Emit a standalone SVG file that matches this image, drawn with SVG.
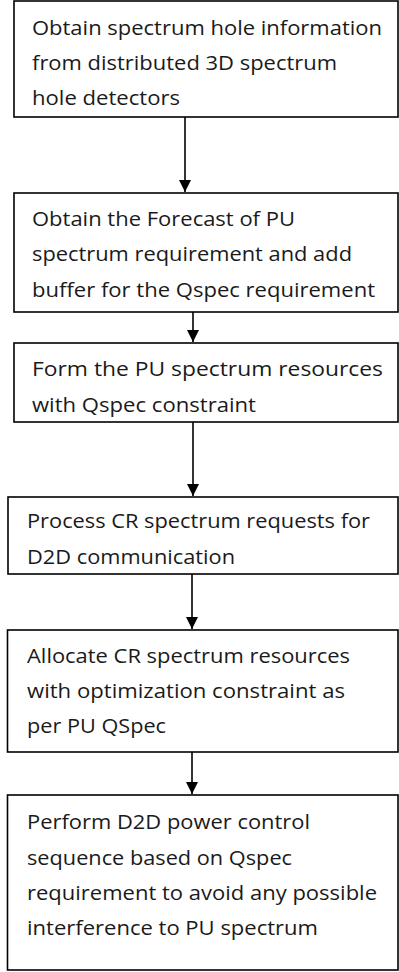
<svg xmlns="http://www.w3.org/2000/svg" width="399" height="972" viewBox="0 0 399 972">
<style>
.box{fill:#fff;stroke:#000;stroke-width:1.6}
.t{font-family:"Open Sans","Noto Sans","Liberation Sans",sans-serif;font-size:20.5px;fill:#1a1a1a}
.c{stroke:#000;stroke-width:1.6;fill:none}
</style>
<defs>
<marker id="ah" markerUnits="userSpaceOnUse" markerWidth="13" markerHeight="13" refX="12" refY="6" orient="auto">
<path d="M0,0 L12,6 L0,12 z" fill="#000"/>
</marker>
</defs>
<rect width="399" height="972" fill="#fff"/>
<g id="connectors">
<line class="c" x1="185" y1="117" x2="185" y2="192" marker-end="url(#ah)"/>
<line class="c" x1="193" y1="312" x2="193" y2="342" marker-end="url(#ah)"/>
<line class="c" x1="193" y1="422" x2="193" y2="496" marker-end="url(#ah)"/>
<line class="c" x1="192" y1="574" x2="192" y2="629" marker-end="url(#ah)"/>
<line class="c" x1="192" y1="752" x2="192" y2="794" marker-end="url(#ah)"/>
</g>
<g id="n1">
<rect class="box" x="14" y="1" width="384" height="116"/>
<text class="t" x="32" y="34.5" textLength="350" lengthAdjust="spacingAndGlyphs">Obtain spectrum hole information</text>
<text class="t" x="32" y="69.5" textLength="305" lengthAdjust="spacingAndGlyphs">from distributed 3D spectrum</text>
<text class="t" x="32" y="104.5" textLength="148" lengthAdjust="spacingAndGlyphs">hole detectors</text>
</g>
<g id="n2">
<rect class="box" x="14" y="193" width="384" height="119"/>
<text class="t" x="32" y="225.5" textLength="263" lengthAdjust="spacingAndGlyphs">Obtain the Forecast of PU</text>
<text class="t" x="32" y="260.5" textLength="320" lengthAdjust="spacingAndGlyphs">spectrum requirement and add</text>
<text class="t" x="32" y="296.5" textLength="343" lengthAdjust="spacingAndGlyphs">buffer for the Qspec requirement</text>
</g>
<g id="n3">
<rect class="box" x="14" y="343" width="384" height="79"/>
<text class="t" x="32" y="375.5" textLength="351" lengthAdjust="spacingAndGlyphs">Form the PU spectrum resources</text>
<text class="t" x="32" y="412" textLength="224" lengthAdjust="spacingAndGlyphs">with Qspec constraint</text>
</g>
<g id="n4">
<rect class="box" x="8" y="497" width="390" height="77"/>
<text class="t" x="27" y="527.5" textLength="343" lengthAdjust="spacingAndGlyphs">Process CR spectrum requests for</text>
<text class="t" x="27" y="563.5" textLength="208" lengthAdjust="spacingAndGlyphs">D2D communication</text>
</g>
<g id="n5">
<rect class="box" x="7.5" y="630" width="390.5" height="122"/>
<text class="t" x="27" y="662.5" textLength="323" lengthAdjust="spacingAndGlyphs">Allocate CR spectrum resources</text>
<text class="t" x="27" y="697.5" textLength="318" lengthAdjust="spacingAndGlyphs">with optimization constraint as</text>
<text class="t" x="27" y="732.5" textLength="139" lengthAdjust="spacingAndGlyphs">per PU QSpec</text>
</g>
<g id="n6">
<rect class="box" x="7.5" y="795" width="390.5" height="175"/>
<text class="t" x="27" y="828.5" textLength="283" lengthAdjust="spacingAndGlyphs">Perform D2D power control</text>
<text class="t" x="27" y="864.5" textLength="265" lengthAdjust="spacingAndGlyphs">sequence based on Qspec</text>
<text class="t" x="27" y="899.5" textLength="350" lengthAdjust="spacingAndGlyphs">requirement to avoid any possible</text>
<text class="t" x="27" y="934.5" textLength="291" lengthAdjust="spacingAndGlyphs">interference to PU spectrum</text>
</g>
</svg>
